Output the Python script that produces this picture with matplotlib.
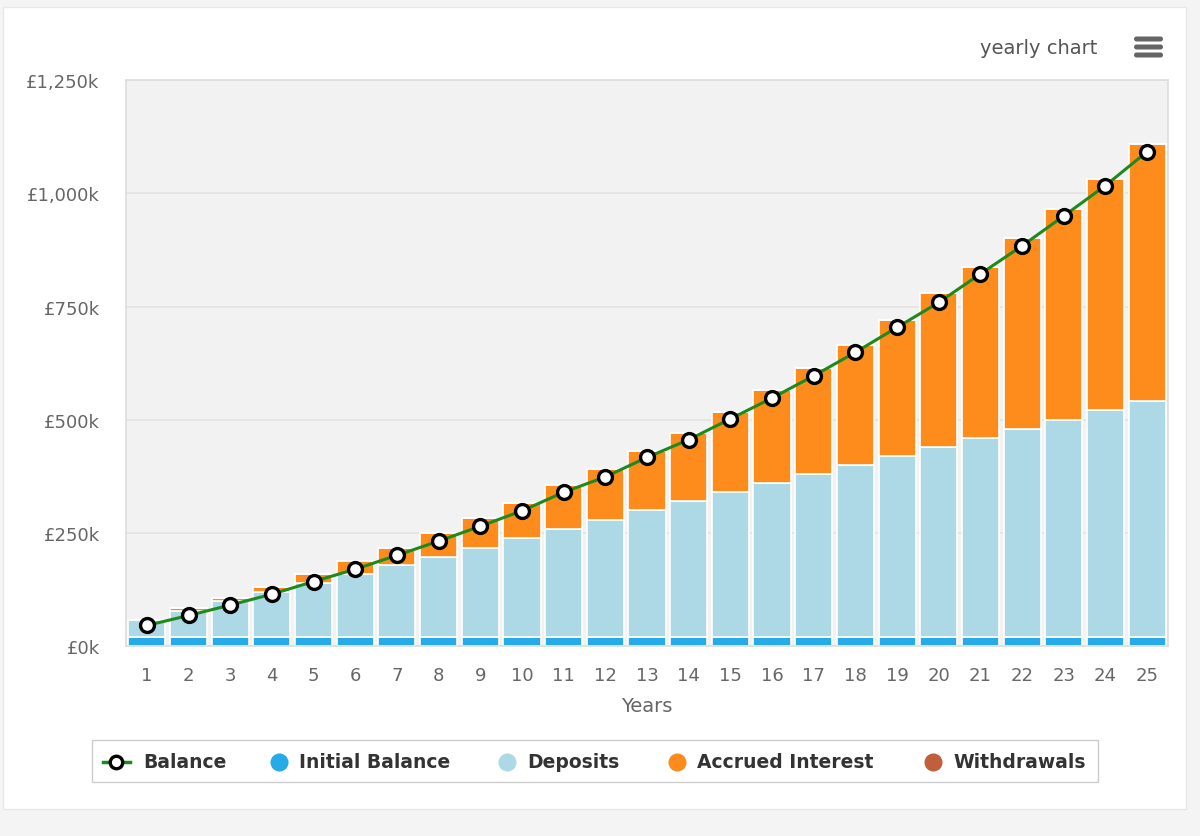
import numpy as np
import matplotlib
matplotlib.use("Agg")
import matplotlib.pyplot as plt
from matplotlib.patches import Rectangle, FancyBboxPatch
from matplotlib.ticker import FuncFormatter

# ============ DATA (in £k) ============
years = list(range(1, 26))
initial_balance = [20] * 25
deposits = [38, 58, 80, 100, 120, 139, 159, 178, 198, 219, 239, 258, 280, 300,
            320, 340, 360, 380, 399, 419, 439, 459, 480, 501, 521]
interest = [1, 6, 7, 11, 19, 29, 38, 51, 65, 77, 96, 113, 132, 151, 178, 205,
            235, 265, 301, 340, 379, 423, 465, 511, 567]
withdrawals = [0] * 25
balance = [46, 68, 91, 115, 143, 170, 201, 232, 265, 299, 340, 374, 417, 456,
           502, 548, 597, 649, 704, 759, 822, 884, 950, 1017, 1092]
y_ticks = [0, 250, 500, 750, 1000, 1250]

C_INIT = "#27aae8"
C_DEP = "#add8e6"
C_INT = "#fe8c1c"
C_WD = "#c15f3c"
C_LINE = "#1e8a1e"

plt.rcParams["font.family"] = ["DejaVu Sans"]

fig = plt.figure(figsize=(12, 8.37), dpi=100, facecolor="#f4f4f4")

# overlay in pixel coords for the card, menu and legend
bg = fig.add_axes([0, 0, 1, 1], zorder=0)
bg.set_xlim(0, 1200)
bg.set_ylim(837, 0)
bg.axis("off")
bg.add_patch(Rectangle((3, 8), 1183, 802, facecolor="white", edgecolor="#e8e8e8", lw=1))

ax = fig.add_axes([126 / 1200, 1 - 647.3 / 837, 1042 / 1200, 566.3 / 837], zorder=1)
ax.set_facecolor("#f2f2f2")

x = np.array(years)
w = 0.89
kw = dict(width=w, edgecolor="white", linewidth=1.2, zorder=2)
b0 = np.zeros(25)
ax.bar(x, initial_balance, bottom=b0, color=C_INIT, **kw)
b1 = b0 + np.array(initial_balance)
ax.bar(x, deposits, bottom=b1, color=C_DEP, **kw)
b2 = b1 + np.array(deposits)
ax.bar(x, interest, bottom=b2, color=C_INT, **kw)
b3 = b2 + np.array(interest)
ax.bar(x, withdrawals, bottom=b3, color=C_WD, **kw)

ax.plot(x, balance, color=C_LINE, lw=2.2, zorder=3, marker="o", markersize=10,
        markerfacecolor="white", markeredgecolor="black", markeredgewidth=2.4)

ax.set_xlim(0.5, 25.5)
ax.set_ylim(0, 1250)
ax.set_yticks(y_ticks)
ax.yaxis.set_major_formatter(FuncFormatter(lambda v, p: "£{:,}k".format(int(v))))
ax.set_xticks(years)
ax.tick_params(axis="both", length=0, labelsize=13, labelcolor="#666666")
ax.tick_params(axis="y", pad=19)
ax.tick_params(axis="x", pad=14)
ax.grid(axis="y", color="#e3e3e3", lw=1.2, zorder=0)
ax.set_axisbelow(True)
for s in ax.spines.values():
    s.set_color("#dddddd")
    s.set_linewidth(1.2)

fig.text(647 / 1200, 1 - 707 / 837, "Years", ha="center", va="center",
         fontsize=14, color="#666666")

# header
bg.text(1097, 48, "yearly chart", ha="right", va="center", fontsize=14, color="#555555")
for yy in (40, 48, 56):
    bg.add_patch(FancyBboxPatch((1134, yy - 2.5), 29, 5,
                                boxstyle="round,pad=0,rounding_size=2.5",
                                facecolor="#666666", edgecolor="none"))

# legend
bg.add_patch(Rectangle((92, 741), 1006, 42, facecolor="white", edgecolor="#cccccc", lw=1))
ly = 763
bg.plot([103, 130], [ly, ly], color=C_LINE, lw=2.5)
bg.plot([116], [ly], marker="o", markersize=9, markerfacecolor="white",
        markeredgecolor="black", markeredgewidth=2.4)
lt = dict(ha="left", va="center", fontsize=13.5, fontweight="bold", color="#333333")
bg.text(143, ly, "Balance", **lt)
items = [(279, C_INIT, 299, "Initial Balance"),
         (507, C_DEP, 527, "Deposits"),
         (677, C_INT, 697, "Accrued Interest"),
         (933, C_WD, 953, "Withdrawals")]
for cx, col, tx, label in items:
    bg.plot([cx], [ly], marker="o", markersize=13, color=col, markeredgewidth=0)
    bg.text(tx, ly, label, **lt)

fig.savefig("out.png", dpi=100, facecolor=fig.get_facecolor())
